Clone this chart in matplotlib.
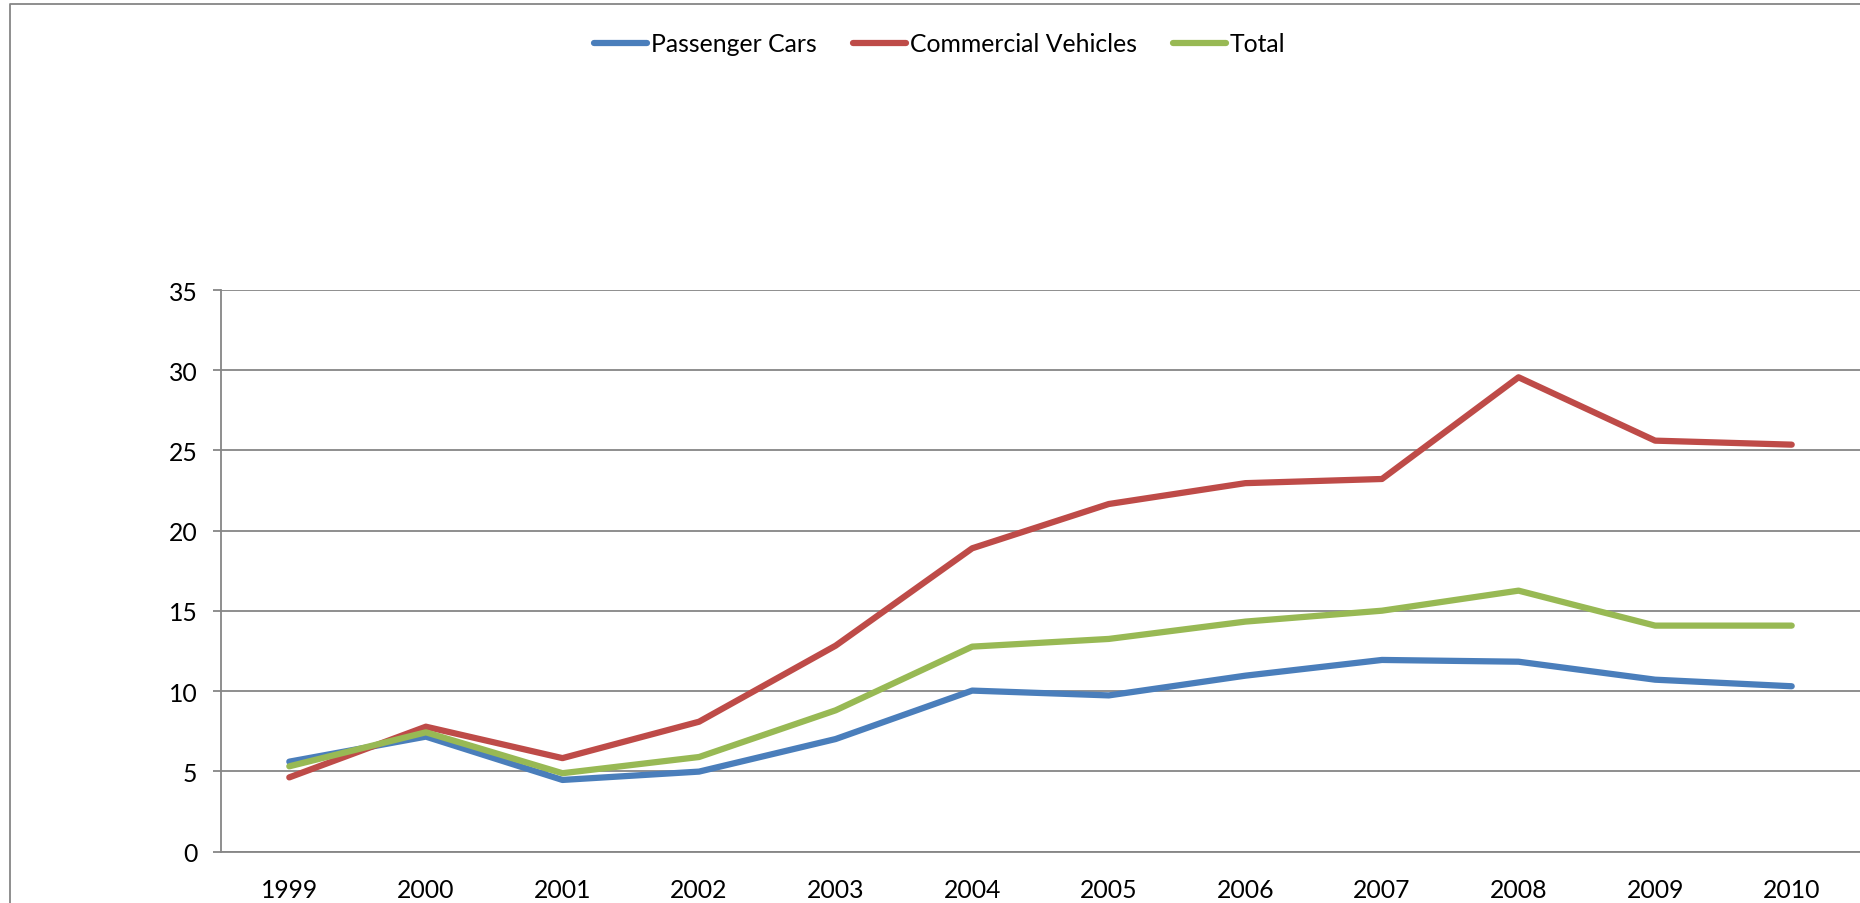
import numpy as np
import matplotlib.pyplot as plt
from matplotlib.lines import Line2D

years = ["1999", "2000", "2001", "2002", "2003", "2004",
         "2005", "2006", "2007", "2008", "2009", "2010"]
passenger_cars = [5.60, 7.16, 4.46, 4.98, 7.01, 10.03, 9.73, 10.96, 11.94, 11.83, 10.71, 10.30]
commercial_vehicles = [4.62, 7.78, 5.82, 8.09, 12.83, 18.90, 21.66, 22.96, 23.22, 29.56, 25.61, 25.36]
total = [5.31, 7.43, 4.88, 5.89, 8.80, 12.77, 13.25, 14.33, 15.01, 16.26, 14.08, 14.08]
y_ticks = [0, 5, 10, 15, 20, 25, 30, 35]

plt.rcParams["font.family"] = ["Lato", "DejaVu Sans"]
grey = "#868686"
fs = 17.8

fig = plt.figure(figsize=(18.6, 9.04), dpi=100)
ax = fig.add_axes([221 / 1860, 51.5 / 904, 1 - 221 / 1860, 561.5 / 904])

x = np.arange(len(years))
lw = 4.5
ax.plot(x, passenger_cars, color="#4A7EBB", lw=lw, label="Passenger Cars",
        solid_capstyle="round", solid_joinstyle="round")
ax.plot(x, commercial_vehicles, color="#BE4B48", lw=lw, label="Commercial Vehicles",
        solid_capstyle="round", solid_joinstyle="round")
ax.plot(x, total, color="#98B954", lw=lw, label="Total",
        solid_capstyle="round", solid_joinstyle="round")

ax.set_xlim(-0.5, len(years) - 0.5)
ax.set_ylim(0, 35)
ax.set_yticks(y_ticks)
ax.set_xticks(x)
ax.set_xticklabels(years)
ax.yaxis.grid(True, color=grey, lw=1.3)
ax.set_axisbelow(True)

for side in ["top", "right"]:
    ax.spines[side].set_visible(False)
for side in ["left", "bottom"]:
    ax.spines[side].set_color(grey)
    ax.spines[side].set_linewidth(1.3)

ax.tick_params(axis="y", length=6, width=1.3, color=grey, pad=11, labelsize=fs)
ax.tick_params(axis="x", length=0, pad=19, labelsize=fs)

fig.legend(loc="center", bbox_to_anchor=(940 / 1860, 1 - 45 / 904), ncol=3,
           frameon=False, fontsize=fs, handlelength=2.15, handletextpad=0.16,
           columnspacing=1.45)

# chart area border (top and left edges)
fig.add_artist(Line2D([10 / 1860, 10 / 1860, 1.0], [0.0, 1 - 5 / 904, 1 - 5 / 904],
                      transform=fig.transFigure, color=grey, lw=1.3))

fig.savefig("out.png", dpi=100)
